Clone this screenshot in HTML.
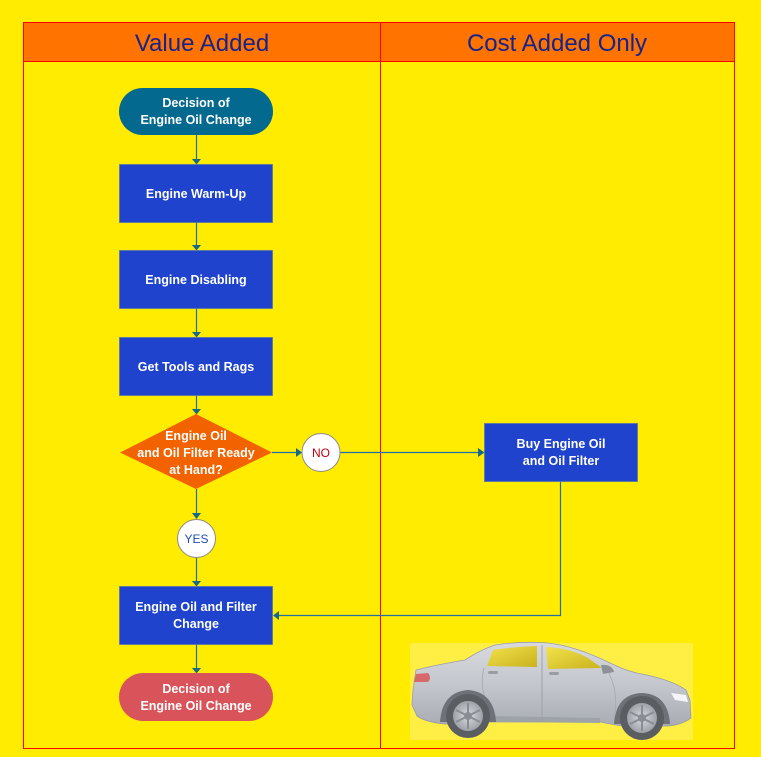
<!DOCTYPE html>
<html>
<head>
<meta charset="utf-8">
<style>
html,body{margin:0;padding:0;background:#FFEC00;}
svg{display:block;}
text{font-family:"Liberation Sans",Arial,sans-serif;}
</style>
</head>
<body>
<svg width="761" height="757" viewBox="0 0 761 757" xmlns="http://www.w3.org/2000/svg">
  <defs>
    <linearGradient id="body" x1="0" y1="0" x2="0" y2="1">
      <stop offset="0" stop-color="#D8DADF"/>
      <stop offset="0.5" stop-color="#C4C7CD"/>
      <stop offset="1" stop-color="#A8ACB3"/>
    </linearGradient>
    <linearGradient id="win" x1="0" y1="0" x2="1" y2="1">
      <stop offset="0" stop-color="#F2E24A"/>
      <stop offset="1" stop-color="#C9B21E"/>
    </linearGradient>
    <radialGradient id="rim" cx="0.5" cy="0.5" r="0.5">
      <stop offset="0" stop-color="#D8DBDF"/>
      <stop offset="1" stop-color="#9EA2A8"/>
    </radialGradient>
  </defs>

  <rect x="0" y="0" width="761" height="757" fill="#FFEC00"/>

  <!-- table -->
  <rect x="23.5" y="22.5" width="711" height="39" fill="#FF7300"/>
  <rect x="23.5" y="22.5" width="711" height="726" fill="none" stroke="#FF0000" stroke-width="1"/>
  <line x1="23.5" y1="61.5" x2="734.5" y2="61.5" stroke="#FF0000" stroke-width="1"/>
  <line x1="380.5" y1="22.5" x2="380.5" y2="748.5" stroke="#FF0000" stroke-width="1"/>
  <text x="202" y="51" text-anchor="middle" font-size="24" fill="#15248C">Value Added</text>
  <text x="557" y="51" text-anchor="middle" font-size="24" fill="#15248C">Cost Added Only</text>

  <!-- connectors -->
  <g stroke="#1F6FA8" stroke-width="1.2" fill="none">
    <line x1="196.5" y1="135" x2="196.5" y2="160"/>
    <line x1="196.5" y1="222" x2="196.5" y2="246"/>
    <line x1="196.5" y1="308" x2="196.5" y2="333"/>
    <line x1="196.5" y1="395" x2="196.5" y2="410"/>
    <line x1="272" y1="452.5" x2="297" y2="452.5"/>
    <line x1="340" y1="452.5" x2="479" y2="452.5"/>
    <line x1="196.5" y1="489" x2="196.5" y2="514"/>
    <line x1="196.5" y1="557" x2="196.5" y2="582"/>
    <polyline points="560.5,481 560.5,615.5 278,615.5"/>
    <line x1="196.5" y1="644" x2="196.5" y2="669"/>
  </g>
  <g fill="#176A82">
    <polygon points="192,159 201,159 196.5,164.5"/>
    <polygon points="192,245 201,245 196.5,250.5"/>
    <polygon points="192,332 201,332 196.5,337.5"/>
    <polygon points="192,409 201,409 196.5,414.5"/>
    <polygon points="296,448 296,457 302,452.5"/>
    <polygon points="478,448 478,457 484.5,452.5"/>
    <polygon points="192,513 201,513 196.5,519"/>
    <polygon points="192,581 201,581 196.5,586.5"/>
    <polygon points="279,611 279,620 273,615.5"/>
    <polygon points="192,668 201,668 196.5,673.5"/>
  </g>

  <!-- start terminator -->
  <rect x="119" y="88" width="154" height="47" rx="23.5" fill="#04698E"/>
  <text x="196" y="107" text-anchor="middle" font-size="12.5" font-weight="bold" fill="#fff">Decision of</text>
  <text x="196" y="124" text-anchor="middle" font-size="12.5" font-weight="bold" fill="#fff">Engine Oil Change</text>

  <!-- process boxes -->
  <g fill="#1F43CC" stroke="#5A74A8" stroke-width="0.8">
    <rect x="119.5" y="164.5" width="153" height="58"/>
    <rect x="119.5" y="250.5" width="153" height="58"/>
    <rect x="119.5" y="337.5" width="153" height="58"/>
    <rect x="484.5" y="423.5" width="153" height="58"/>
    <rect x="119.5" y="586.5" width="153" height="58"/>
  </g>
  <g font-size="12.5" font-weight="bold" fill="#fff" text-anchor="middle">
    <text x="196" y="198">Engine Warm-Up</text>
    <text x="196" y="284">Engine Disabling</text>
    <text x="196" y="371">Get Tools and Rags</text>
    <text x="561" y="448">Buy Engine Oil</text>
    <text x="561" y="465">and Oil Filter</text>
    <text x="196" y="611">Engine Oil and Filter</text>
    <text x="196" y="628">Change</text>
  </g>

  <!-- diamond -->
  <polygon points="196,414 272,452.5 196,489 120,452.5" fill="#F26300"/>
  <g font-size="12.5" font-weight="bold" fill="#fff" text-anchor="middle">
    <text x="196" y="440">Engine Oil</text>
    <text x="196" y="457">and Oil Filter Ready</text>
    <text x="196" y="474">at Hand?</text>
  </g>

  <!-- circles -->
  <circle cx="321" cy="452.5" r="19" fill="#fff" stroke="#8A8A8A" stroke-width="1"/>
  <text x="321" y="457" text-anchor="middle" font-size="12" fill="#C00010">NO</text>
  <circle cx="196.5" cy="538.5" r="19" fill="#fff" stroke="#8A8A8A" stroke-width="1"/>
  <text x="196.5" y="543" text-anchor="middle" font-size="12" fill="#1F4FB0">YES</text>

  <!-- end terminator -->
  <rect x="119" y="673" width="154" height="48" rx="24" fill="#D9545A"/>
  <text x="196" y="693" text-anchor="middle" font-size="12.5" font-weight="bold" fill="#fff">Decision of</text>
  <text x="196" y="710" text-anchor="middle" font-size="12.5" font-weight="bold" fill="#fff">Engine Oil Change</text>

  <!-- car picture -->
  <rect x="410" y="643" width="283" height="97" fill="#FFEF45"/>
  <g>
    <path d="M413,690 L416,670 Q440,664 465,660 Q480,650 495,645 Q520,641 548,643 Q575,646 608,662 Q628,672 642,674 Q672,680 686,690 L690,700 L691,718 Q680,726 664,726 L622,726 Q610,724 600,722 L490,722 Q482,724 470,724 L445,724 Q425,722 417,716 L412,705 Z" fill="url(#body)" stroke="#9A9EA5" stroke-width="0.8"/>
    <path d="M490,716 L600,718 L600,723 L490,722 Z" fill="#9EA2A9"/>
    <path d="M487,666 L493,650 Q510,647 537,646 L537,667 Z" fill="url(#win)"/>
    <path d="M546,647 Q570,648 588,658 L602,668 L548,669 Z" fill="url(#win)"/>
    <line x1="542" y1="645" x2="542" y2="722" stroke="#9EA2A8" stroke-width="1"/>
    <path d="M484,668 Q478,690 492,712" fill="none" stroke="#A5A9AF" stroke-width="0.8"/>
    <path d="M606,668 Q620,690 614,722" fill="none" stroke="#A5A9AF" stroke-width="0.8"/>
    <path d="M601,665 Q612,664 614,672 L603,674 Z" fill="#8D9197"/>
    <rect x="488" y="671" width="10" height="3" rx="1.5" fill="#9A9EA4"/>
    <rect x="549" y="672" width="10" height="3" rx="1.5" fill="#9A9EA4"/>
    <path d="M416,674 L428,673 Q432,678 428,682 L414,682 Z" fill="#D66A6A"/>
    <path d="M671,693 L686,695 L688,702 L675,700 Z" fill="#F3F5F7"/>
    <path d="M440,722 Q442,692 468,690 Q494,692 496,722 Z" fill="#6E7278"/>
    <path d="M614,724 Q616,694 642,693 Q668,694 670,724 Z" fill="#6E7278"/>
    <circle cx="468" cy="716" r="22" fill="#5A5D62"/>
    <circle cx="468" cy="716" r="15" fill="url(#rim)"/>
    <circle cx="468" cy="716" r="4" fill="#8C9096"/>
    <circle cx="642" cy="718" r="22" fill="#5A5D62"/>
    <circle cx="642" cy="718" r="15" fill="url(#rim)"/>
    <circle cx="642" cy="718" r="4" fill="#8C9096"/>
    <g stroke="#8A8E94" stroke-width="2">
      <line x1="468" y1="703" x2="468" y2="729"/>
      <line x1="456" y1="710" x2="480" y2="722"/>
      <line x1="456" y1="722" x2="480" y2="710"/>
      <line x1="642" y1="705" x2="642" y2="731"/>
      <line x1="630" y1="712" x2="654" y2="724"/>
      <line x1="630" y1="724" x2="654" y2="712"/>
    </g>
  </g>
</svg>
</body>
</html>
